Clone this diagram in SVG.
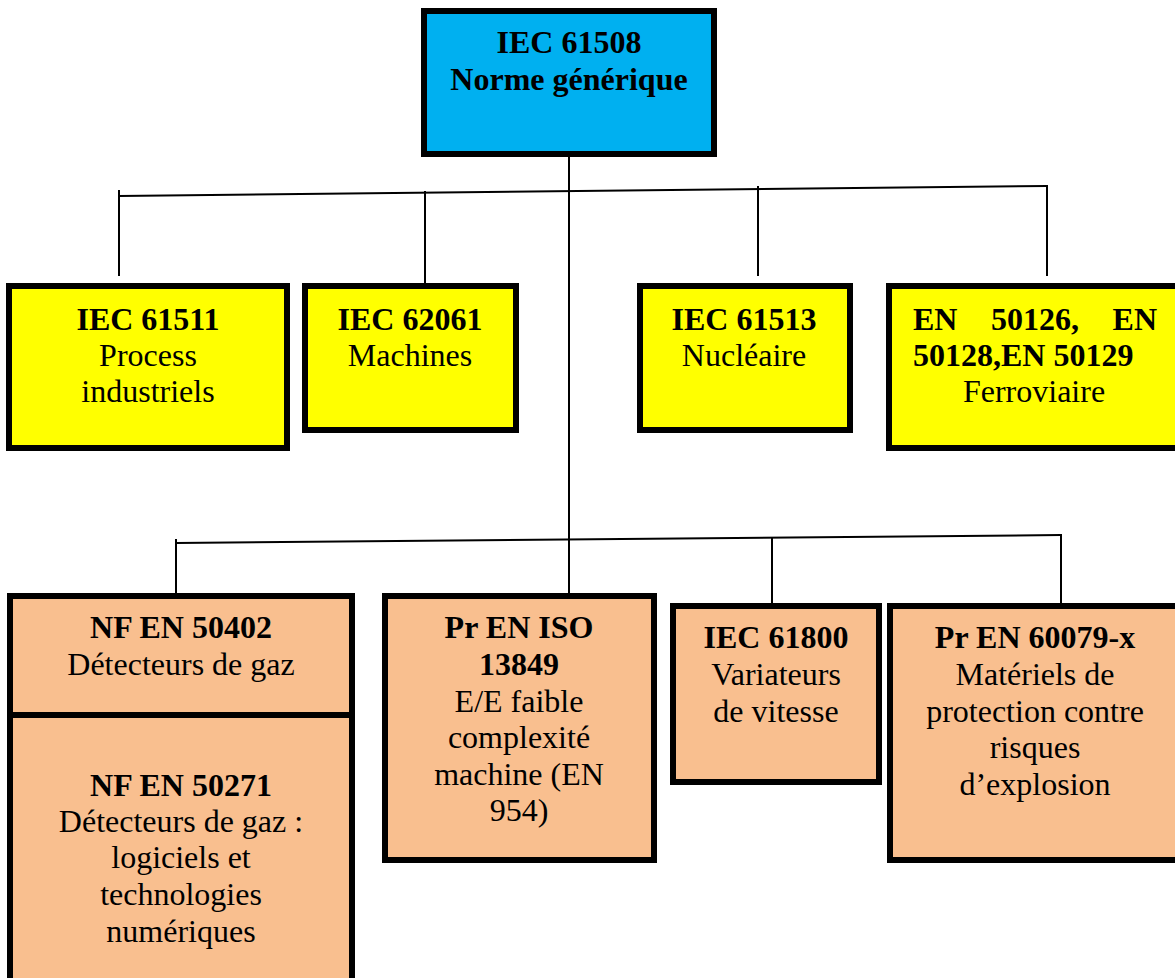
<svg xmlns="http://www.w3.org/2000/svg" width="1175" height="978" viewBox="0 0 1175 978">
<style>
.box{stroke:#000;stroke-width:6}
.blue{fill:#00B0F0}
.yel{fill:#FFFF00}
.peach{fill:#F9BF8F}
text{font-family:"Liberation Serif","Times New Roman",serif;font-size:32px;fill:#000;text-anchor:middle}
.b{font-weight:bold}
.conn line{stroke:#000;stroke-width:2;fill:none}
</style>
<rect width="1175" height="978" fill="#fff"/>
<g class="conn" id="connectors">
<line x1="569" y1="157" x2="569" y2="593"/>
<line x1="119" y1="196" x2="1047" y2="186"/>
<line x1="119" y1="190" x2="119" y2="276"/>
<line x1="425" y1="191" x2="425" y2="284"/>
<line x1="758" y1="186" x2="758" y2="276"/>
<line x1="1047" y1="185" x2="1047" y2="276"/>
<line x1="176" y1="543" x2="1061" y2="535"/>
<line x1="176" y1="539" x2="176" y2="593"/>
<line x1="772" y1="538" x2="772" y2="603"/>
<line x1="1061" y1="534" x2="1061" y2="603"/>
</g>
<g id="iec61508">
<rect class="box blue" x="424" y="11" width="290" height="143"/>
<text class="b" x="569" y="53">IEC 61508</text>
<text class="b" x="569" y="90">Norme générique</text>
</g>
<g id="iec61511">
<rect class="box yel" x="9" y="286" width="278" height="162"/>
<text class="b" x="148" y="330">IEC 61511</text>
<text x="148" y="366">Process</text>
<text x="148" y="402">industriels</text>
</g>
<g id="iec62061">
<rect class="box yel" x="305" y="286" width="211" height="144"/>
<text class="b" x="410" y="330">IEC 62061</text>
<text x="410" y="366">Machines</text>
</g>
<g id="iec61513">
<rect class="box yel" x="640" y="286" width="210" height="144"/>
<text class="b" x="744" y="330">IEC 61513</text>
<text x="744" y="366">Nucléaire</text>
</g>
<g id="en50126">
<rect class="box yel" x="889" y="286" width="300" height="162"/>
<text class="b" x="913" y="330" style="text-anchor:start">EN</text>
<text class="b" x="1035" y="330">50126,</text>
<text class="b" x="1157" y="330" style="text-anchor:end">EN</text>
<text class="b" x="913" y="366" style="text-anchor:start">50128,EN 50129</text>
<text x="1034" y="402">Ferroviaire</text>
</g>
<g id="nfen50402">
<rect class="box peach" x="10" y="596" width="342" height="400"/>
<line x1="10" y1="715" x2="352" y2="715" stroke="#000" stroke-width="6"/>
<text class="b" x="181" y="638">NF EN 50402</text>
<text x="181" y="675">Détecteurs de gaz</text>
</g>
<g id="nfen50271">
<text class="b" x="181" y="796">NF EN 50271</text>
<text x="181" y="832">Détecteurs de gaz :</text>
<text x="181" y="868">logiciels et</text>
<text x="181" y="905">technologies</text>
<text x="181" y="942">numériques</text>
</g>
<g id="prenis13849">
<rect class="box peach" x="385" y="596" width="269" height="264"/>
<text class="b" x="519" y="638">Pr EN ISO</text>
<text class="b" x="519" y="675">13849</text>
<text x="519" y="712">E/E faible</text>
<text x="519" y="748">complexité</text>
<text x="519" y="785">machine (EN</text>
<text x="519" y="821">954)</text>
</g>
<g id="iec61800">
<rect class="box peach" x="673" y="606" width="206" height="176"/>
<text class="b" x="776" y="648">IEC 61800</text>
<text x="776" y="685">Variateurs</text>
<text x="776" y="722">de vitesse</text>
</g>
<g id="pren60079">
<rect class="box peach" x="890" y="606" width="300" height="254"/>
<text class="b" x="1035" y="648">Pr EN 60079-x</text>
<text x="1035" y="685">Matériels de</text>
<text x="1035" y="722">protection contre</text>
<text x="1035" y="758">risques</text>
<text x="1035" y="795">d’explosion</text>
</g>
</svg>
